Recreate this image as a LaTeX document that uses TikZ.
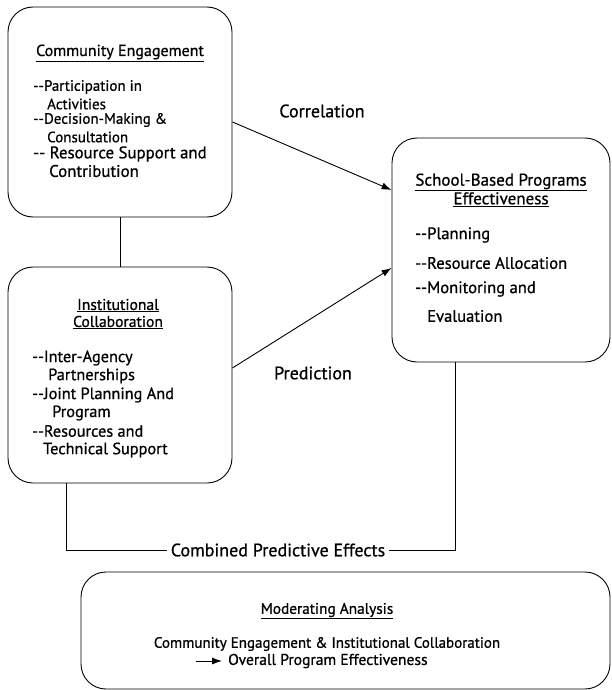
\documentclass[tikz,border=0pt]{standalone}
\usepackage{fontspec}
\setmainfont{PT Sans}[UprightFeatures={FakeBold=0.8}]
\usetikzlibrary{positioning,arrows.meta}
\tikzset{
  box/.style={draw, line width=0.9pt, rounded corners=25pt, inner sep=0pt},
  title/.style={align=center, inner sep=1pt},
  item/.style={anchor=west, inner sep=0pt},
  link/.style={line width=0.9pt},
  tip/.style={-{Latex[length=10pt,width=7pt]}, line width=0.9pt}
}
\newcommand{\fs}[1]{\fontsize{#1}{17}\selectfont}
\begin{document}
\begin{tikzpicture}[x=1pt, y=-1pt, font=\fs{15}]
  \useasboundingbox (0,0) rectangle (611,690);

  % boxes
  \node[box, minimum width=224pt, minimum height=210pt] (ce) at (120,112) {};
  \node[box, minimum width=224pt, minimum height=216pt] (ic) at (120,375) {};
  \node[box, minimum width=218pt, minimum height=224pt] (sbp) at (501,250) {};
  \node[box, minimum width=529pt, minimum height=117pt] (mod) at (345.5,630.5) {};

  % community engagement
  \node[title, font=\fs{16}] (cet) at (120,53) {\underline{Community Engagement}};
  \node[item] (ce1) at (33,87) {{-}{-}Participation in};
  \node[item] (ce2) at (47,104) {Activities};
  \node[item] (ce3) at (33,120) {{-}{-}Decision-Making \&};
  \node[item] (ce4) at (47,137) {Consultation};
  \node[item, font=\fs{16.8}] (ce5) at (33,154) {{-}{-} Resource Support and};
  \node[item, font=\fs{16.8}] (ce6) at (49,171) {Contribution};

  % institutional collaboration
  \node[title, font=\fs{15.6}] (ict) at (118,314) {\underline{Institutional}\\\underline{Collaboration}};
  \begin{scope}[every node/.append style={font=\fs{16.3}}]
    \node[item] (ic1) at (32,358) {{-}{-}Inter-Agency};
    \node[item] (ic2) at (48,376) {Partnerships};
    \node[item] (ic3) at (32,395) {{-}{-}Joint Planning And};
    \node[item] (ic4) at (52,413) {Program};
    \node[item] (ic5) at (32,431) {{-}{-}Resources and};
    \node[item] (ic6) at (43,450) {Technical Support};
  \end{scope}

  % school-based programs
  \node[title, font=\fs{17}] (sbpt) at (501,190) {\underline{School-Based Programs}\\\underline{Effectiveness}};
  \begin{scope}[every node/.append style={font=\fs{16.6}}]
    \node[item] (sbp1) at (415,235) {{-}{-}Planning};
    \node[item] (sbp2) at (415,263) {{-}{-}Resource Allocation};
    \node[item] (sbp3) at (415,289) {{-}{-}Monitoring and};
    \node[item] (sbp4) at (427,316) {Evaluation};
  \end{scope}

  % moderating analysis
  \node[title, font=\fs{15.3}] (modt) at (327,611) {\underline{Moderating Analysis}};
  \node[title] (mod1) at (327,644) {Community Engagement \& Institutional Collaboration};
  \node[item, font=\fs{15.6}] (mod2) at (228,661) {Overall Program Effectiveness};
  \draw[tip] ([xshift=-32pt]mod2.west) -- ([xshift=-6pt]mod2.west);

  % links
  \node[font=\fs{18}] (cor) at (322,111) {Correlation};
  \node[font=\fs{18}] (pre) at (313,373) {Prediction};
  \draw[link] (ce.south) -- (ic.north);
  \draw[tip] ([yshift=-10pt]ce.east) -- ([yshift=60pt]sbp.west);
  \draw[tip] ([yshift=7pt]ic.east) -- ([yshift=-18pt]sbp.west);

  \node[inner sep=4pt, font=\fs{18}] (comb) at (278,550) {Combined Predictive Effects};
  \draw[link] ([xshift=-54pt]ic.south) |- (comb.west);
  \draw[link] (comb.east) -| ([xshift=-46pt]sbp.south);
\end{tikzpicture}
\end{document}
